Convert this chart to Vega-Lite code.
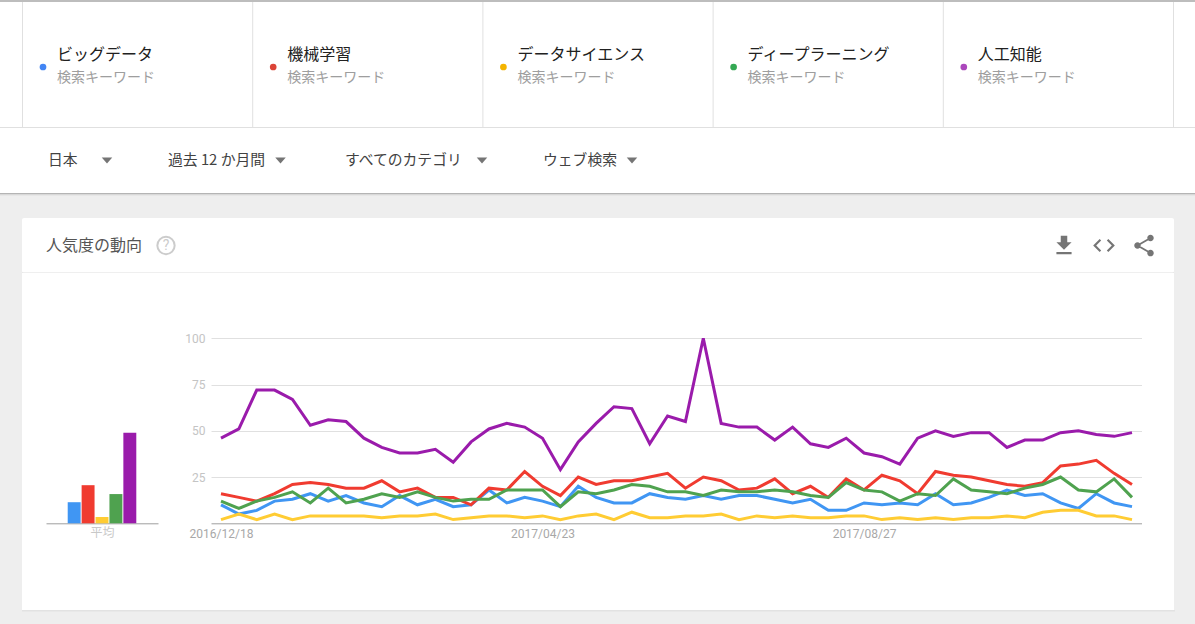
{"$schema":"https://vega.github.io/schema/vega-lite/v6.json","background":"#eeeeee","padding":0,"autosize":{"type":"pad"},
"config":{"font":"Noto Sans CJK JP","view":{"stroke":null},"axis":{"labelFont":"Roboto","titleFont":"Noto Sans CJK JP"}},
"datasets":{
"keywords":[{"slot":0,"series":"ビッグデータ","kind":"検索キーワード"},{"slot":1,"series":"機械学習","kind":"検索キーワード"},{"slot":2,"series":"データサイエンス","kind":"検索キーワード"},{"slot":3,"series":"ディープラーニング","kind":"検索キーワード"},{"slot":4,"series":"人工知能","kind":"検索キーワード"}],
"separators":[{"slot":0},{"slot":1},{"slot":2},{"slot":3},{"slot":4},{"slot":5}],
"filters":[{"slot":0,"label":"日本"},{"slot":1,"label":"過去 12 か月間"},{"slot":2,"label":"すべてのカテゴリ"},{"slot":3,"label":"ウェブ検索"}],
"cardhead":[{"slot":0,"item":"人気度の動向"},{"slot":1,"item":"?"},{"slot":2,"item":"download"},{"slot":3,"item":"code"},{"slot":4,"item":"share"}],
"averages":[{"series":"ビッグデータ","value":11.4},{"series":"機械学習","value":20.6},{"series":"データサイエンス","value":3.4},{"series":"ディープラーニング","value":15.8},{"series":"人工知能","value":49}],
"trend":[
{"date":"2016/12/18","series":"ビッグデータ","value":10},{"date":"2016/12/25","series":"ビッグデータ","value":5},{"date":"2017/01/01","series":"ビッグデータ","value":7},{"date":"2017/01/08","series":"ビッグデータ","value":12},{"date":"2017/01/15","series":"ビッグデータ","value":13},{"date":"2017/01/22","series":"ビッグデータ","value":16},{"date":"2017/01/29","series":"ビッグデータ","value":12},{"date":"2017/02/05","series":"ビッグデータ","value":15},{"date":"2017/02/12","series":"ビッグデータ","value":11},{"date":"2017/02/19","series":"ビッグデータ","value":9},{"date":"2017/02/26","series":"ビッグデータ","value":15},{"date":"2017/03/05","series":"ビッグデータ","value":10},{"date":"2017/03/12","series":"ビッグデータ","value":13},{"date":"2017/03/19","series":"ビッグデータ","value":9},{"date":"2017/03/26","series":"ビッグデータ","value":10},{"date":"2017/04/02","series":"ビッグデータ","value":18},{"date":"2017/04/09","series":"ビッグデータ","value":11},{"date":"2017/04/16","series":"ビッグデータ","value":14},{"date":"2017/04/23","series":"ビッグデータ","value":12},{"date":"2017/04/30","series":"ビッグデータ","value":9},{"date":"2017/05/07","series":"ビッグデータ","value":20},{"date":"2017/05/14","series":"ビッグデータ","value":14},{"date":"2017/05/21","series":"ビッグデータ","value":11},{"date":"2017/05/28","series":"ビッグデータ","value":11},{"date":"2017/06/04","series":"ビッグデータ","value":16},{"date":"2017/06/11","series":"ビッグデータ","value":14},{"date":"2017/06/18","series":"ビッグデータ","value":13},{"date":"2017/06/25","series":"ビッグデータ","value":15},{"date":"2017/07/02","series":"ビッグデータ","value":13},{"date":"2017/07/09","series":"ビッグデータ","value":15},{"date":"2017/07/16","series":"ビッグデータ","value":15},{"date":"2017/07/23","series":"ビッグデータ","value":13},{"date":"2017/07/30","series":"ビッグデータ","value":11},{"date":"2017/08/06","series":"ビッグデータ","value":13},{"date":"2017/08/13","series":"ビッグデータ","value":7},{"date":"2017/08/20","series":"ビッグデータ","value":7},{"date":"2017/08/27","series":"ビッグデータ","value":11},{"date":"2017/09/03","series":"ビッグデータ","value":10},{"date":"2017/09/10","series":"ビッグデータ","value":11},{"date":"2017/09/17","series":"ビッグデータ","value":10},{"date":"2017/09/24","series":"ビッグデータ","value":16},{"date":"2017/10/01","series":"ビッグデータ","value":10},{"date":"2017/10/08","series":"ビッグデータ","value":11},{"date":"2017/10/15","series":"ビッグデータ","value":14},{"date":"2017/10/22","series":"ビッグデータ","value":18},{"date":"2017/10/29","series":"ビッグデータ","value":15},{"date":"2017/11/05","series":"ビッグデータ","value":16},{"date":"2017/11/12","series":"ビッグデータ","value":11},{"date":"2017/11/19","series":"ビッグデータ","value":8},{"date":"2017/11/26","series":"ビッグデータ","value":16},{"date":"2017/12/03","series":"ビッグデータ","value":11},{"date":"2017/12/10","series":"ビッグデータ","value":9},
{"date":"2016/12/18","series":"機械学習","value":16},{"date":"2016/12/25","series":"機械学習","value":14},{"date":"2017/01/01","series":"機械学習","value":12},{"date":"2017/01/08","series":"機械学習","value":16},{"date":"2017/01/15","series":"機械学習","value":21},{"date":"2017/01/22","series":"機械学習","value":22},{"date":"2017/01/29","series":"機械学習","value":21},{"date":"2017/02/05","series":"機械学習","value":19},{"date":"2017/02/12","series":"機械学習","value":19},{"date":"2017/02/19","series":"機械学習","value":23},{"date":"2017/02/26","series":"機械学習","value":17},{"date":"2017/03/05","series":"機械学習","value":19},{"date":"2017/03/12","series":"機械学習","value":14},{"date":"2017/03/19","series":"機械学習","value":14},{"date":"2017/03/26","series":"機械学習","value":10},{"date":"2017/04/02","series":"機械学習","value":19},{"date":"2017/04/09","series":"機械学習","value":18},{"date":"2017/04/16","series":"機械学習","value":28},{"date":"2017/04/23","series":"機械学習","value":20},{"date":"2017/04/30","series":"機械学習","value":15},{"date":"2017/05/07","series":"機械学習","value":25},{"date":"2017/05/14","series":"機械学習","value":21},{"date":"2017/05/21","series":"機械学習","value":23},{"date":"2017/05/28","series":"機械学習","value":23},{"date":"2017/06/04","series":"機械学習","value":25},{"date":"2017/06/11","series":"機械学習","value":27},{"date":"2017/06/18","series":"機械学習","value":19},{"date":"2017/06/25","series":"機械学習","value":25},{"date":"2017/07/02","series":"機械学習","value":23},{"date":"2017/07/09","series":"機械学習","value":18},{"date":"2017/07/16","series":"機械学習","value":19},{"date":"2017/07/23","series":"機械学習","value":24},{"date":"2017/07/30","series":"機械学習","value":16},{"date":"2017/08/06","series":"機械学習","value":20},{"date":"2017/08/13","series":"機械学習","value":14},{"date":"2017/08/20","series":"機械学習","value":24},{"date":"2017/08/27","series":"機械学習","value":18},{"date":"2017/09/03","series":"機械学習","value":26},{"date":"2017/09/10","series":"機械学習","value":23},{"date":"2017/09/17","series":"機械学習","value":16},{"date":"2017/09/24","series":"機械学習","value":28},{"date":"2017/10/01","series":"機械学習","value":26},{"date":"2017/10/08","series":"機械学習","value":25},{"date":"2017/10/15","series":"機械学習","value":23},{"date":"2017/10/22","series":"機械学習","value":21},{"date":"2017/10/29","series":"機械学習","value":20},{"date":"2017/11/05","series":"機械学習","value":22},{"date":"2017/11/12","series":"機械学習","value":31},{"date":"2017/11/19","series":"機械学習","value":32},{"date":"2017/11/26","series":"機械学習","value":34},{"date":"2017/12/03","series":"機械学習","value":27},{"date":"2017/12/10","series":"機械学習","value":21},
{"date":"2016/12/18","series":"データサイエンス","value":2},{"date":"2016/12/25","series":"データサイエンス","value":5},{"date":"2017/01/01","series":"データサイエンス","value":2},{"date":"2017/01/08","series":"データサイエンス","value":5},{"date":"2017/01/15","series":"データサイエンス","value":2},{"date":"2017/01/22","series":"データサイエンス","value":4},{"date":"2017/01/29","series":"データサイエンス","value":4},{"date":"2017/02/05","series":"データサイエンス","value":4},{"date":"2017/02/12","series":"データサイエンス","value":4},{"date":"2017/02/19","series":"データサイエンス","value":3},{"date":"2017/02/26","series":"データサイエンス","value":4},{"date":"2017/03/05","series":"データサイエンス","value":4},{"date":"2017/03/12","series":"データサイエンス","value":5},{"date":"2017/03/19","series":"データサイエンス","value":2},{"date":"2017/03/26","series":"データサイエンス","value":3},{"date":"2017/04/02","series":"データサイエンス","value":4},{"date":"2017/04/09","series":"データサイエンス","value":4},{"date":"2017/04/16","series":"データサイエンス","value":3},{"date":"2017/04/23","series":"データサイエンス","value":4},{"date":"2017/04/30","series":"データサイエンス","value":2},{"date":"2017/05/07","series":"データサイエンス","value":4},{"date":"2017/05/14","series":"データサイエンス","value":5},{"date":"2017/05/21","series":"データサイエンス","value":2},{"date":"2017/05/28","series":"データサイエンス","value":6},{"date":"2017/06/04","series":"データサイエンス","value":3},{"date":"2017/06/11","series":"データサイエンス","value":3},{"date":"2017/06/18","series":"データサイエンス","value":4},{"date":"2017/06/25","series":"データサイエンス","value":4},{"date":"2017/07/02","series":"データサイエンス","value":5},{"date":"2017/07/09","series":"データサイエンス","value":2},{"date":"2017/07/16","series":"データサイエンス","value":4},{"date":"2017/07/23","series":"データサイエンス","value":3},{"date":"2017/07/30","series":"データサイエンス","value":4},{"date":"2017/08/06","series":"データサイエンス","value":3},{"date":"2017/08/13","series":"データサイエンス","value":3},{"date":"2017/08/20","series":"データサイエンス","value":4},{"date":"2017/08/27","series":"データサイエンス","value":4},{"date":"2017/09/03","series":"データサイエンス","value":2},{"date":"2017/09/10","series":"データサイエンス","value":3},{"date":"2017/09/17","series":"データサイエンス","value":2},{"date":"2017/09/24","series":"データサイエンス","value":3},{"date":"2017/10/01","series":"データサイエンス","value":2},{"date":"2017/10/08","series":"データサイエンス","value":3},{"date":"2017/10/15","series":"データサイエンス","value":3},{"date":"2017/10/22","series":"データサイエンス","value":4},{"date":"2017/10/29","series":"データサイエンス","value":3},{"date":"2017/11/05","series":"データサイエンス","value":6},{"date":"2017/11/12","series":"データサイエンス","value":7},{"date":"2017/11/19","series":"データサイエンス","value":7},{"date":"2017/11/26","series":"データサイエンス","value":4},{"date":"2017/12/03","series":"データサイエンス","value":4},{"date":"2017/12/10","series":"データサイエンス","value":2},
{"date":"2016/12/18","series":"ディープラーニング","value":12},{"date":"2016/12/25","series":"ディープラーニング","value":8},{"date":"2017/01/01","series":"ディープラーニング","value":12},{"date":"2017/01/08","series":"ディープラーニング","value":14},{"date":"2017/01/15","series":"ディープラーニング","value":17},{"date":"2017/01/22","series":"ディープラーニング","value":11},{"date":"2017/01/29","series":"ディープラーニング","value":19},{"date":"2017/02/05","series":"ディープラーニング","value":11},{"date":"2017/02/12","series":"ディープラーニング","value":13},{"date":"2017/02/19","series":"ディープラーニング","value":16},{"date":"2017/02/26","series":"ディープラーニング","value":14},{"date":"2017/03/05","series":"ディープラーニング","value":17},{"date":"2017/03/12","series":"ディープラーニング","value":14},{"date":"2017/03/19","series":"ディープラーニング","value":12},{"date":"2017/03/26","series":"ディープラーニング","value":13},{"date":"2017/04/02","series":"ディープラーニング","value":13},{"date":"2017/04/09","series":"ディープラーニング","value":18},{"date":"2017/04/16","series":"ディープラーニング","value":18},{"date":"2017/04/23","series":"ディープラーニング","value":18},{"date":"2017/04/30","series":"ディープラーニング","value":9},{"date":"2017/05/07","series":"ディープラーニング","value":17},{"date":"2017/05/14","series":"ディープラーニング","value":16},{"date":"2017/05/21","series":"ディープラーニング","value":18},{"date":"2017/05/28","series":"ディープラーニング","value":21},{"date":"2017/06/04","series":"ディープラーニング","value":20},{"date":"2017/06/11","series":"ディープラーニング","value":17},{"date":"2017/06/18","series":"ディープラーニング","value":17},{"date":"2017/06/25","series":"ディープラーニング","value":15},{"date":"2017/07/02","series":"ディープラーニング","value":18},{"date":"2017/07/09","series":"ディープラーニング","value":17},{"date":"2017/07/16","series":"ディープラーニング","value":17},{"date":"2017/07/23","series":"ディープラーニング","value":18},{"date":"2017/07/30","series":"ディープラーニング","value":17},{"date":"2017/08/06","series":"ディープラーニング","value":15},{"date":"2017/08/13","series":"ディープラーニング","value":14},{"date":"2017/08/20","series":"ディープラーニング","value":22},{"date":"2017/08/27","series":"ディープラーニング","value":18},{"date":"2017/09/03","series":"ディープラーニング","value":17},{"date":"2017/09/10","series":"ディープラーニング","value":12},{"date":"2017/09/17","series":"ディープラーニング","value":16},{"date":"2017/09/24","series":"ディープラーニング","value":15},{"date":"2017/10/01","series":"ディープラーニング","value":24},{"date":"2017/10/08","series":"ディープラーニング","value":18},{"date":"2017/10/15","series":"ディープラーニング","value":17},{"date":"2017/10/22","series":"ディープラーニング","value":16},{"date":"2017/10/29","series":"ディープラーニング","value":19},{"date":"2017/11/05","series":"ディープラーニング","value":21},{"date":"2017/11/12","series":"ディープラーニング","value":25},{"date":"2017/11/19","series":"ディープラーニング","value":18},{"date":"2017/11/26","series":"ディープラーニング","value":17},{"date":"2017/12/03","series":"ディープラーニング","value":24},{"date":"2017/12/10","series":"ディープラーニング","value":14},
{"date":"2016/12/18","series":"人工知能","value":46},{"date":"2016/12/25","series":"人工知能","value":51},{"date":"2017/01/01","series":"人工知能","value":72},{"date":"2017/01/08","series":"人工知能","value":72},{"date":"2017/01/15","series":"人工知能","value":67},{"date":"2017/01/22","series":"人工知能","value":53},{"date":"2017/01/29","series":"人工知能","value":56},{"date":"2017/02/05","series":"人工知能","value":55},{"date":"2017/02/12","series":"人工知能","value":46},{"date":"2017/02/19","series":"人工知能","value":41},{"date":"2017/02/26","series":"人工知能","value":38},{"date":"2017/03/05","series":"人工知能","value":38},{"date":"2017/03/12","series":"人工知能","value":40},{"date":"2017/03/19","series":"人工知能","value":33},{"date":"2017/03/26","series":"人工知能","value":44},{"date":"2017/04/02","series":"人工知能","value":51},{"date":"2017/04/09","series":"人工知能","value":54},{"date":"2017/04/16","series":"人工知能","value":52},{"date":"2017/04/23","series":"人工知能","value":46},{"date":"2017/04/30","series":"人工知能","value":29},{"date":"2017/05/07","series":"人工知能","value":44},{"date":"2017/05/14","series":"人工知能","value":54},{"date":"2017/05/21","series":"人工知能","value":63},{"date":"2017/05/28","series":"人工知能","value":62},{"date":"2017/06/04","series":"人工知能","value":43},{"date":"2017/06/11","series":"人工知能","value":58},{"date":"2017/06/18","series":"人工知能","value":55},{"date":"2017/06/25","series":"人工知能","value":100},{"date":"2017/07/02","series":"人工知能","value":54},{"date":"2017/07/09","series":"人工知能","value":52},{"date":"2017/07/16","series":"人工知能","value":52},{"date":"2017/07/23","series":"人工知能","value":45},{"date":"2017/07/30","series":"人工知能","value":52},{"date":"2017/08/06","series":"人工知能","value":43},{"date":"2017/08/13","series":"人工知能","value":41},{"date":"2017/08/20","series":"人工知能","value":46},{"date":"2017/08/27","series":"人工知能","value":38},{"date":"2017/09/03","series":"人工知能","value":36},{"date":"2017/09/10","series":"人工知能","value":32},{"date":"2017/09/17","series":"人工知能","value":46},{"date":"2017/09/24","series":"人工知能","value":50},{"date":"2017/10/01","series":"人工知能","value":47},{"date":"2017/10/08","series":"人工知能","value":49},{"date":"2017/10/15","series":"人工知能","value":49},{"date":"2017/10/22","series":"人工知能","value":41},{"date":"2017/10/29","series":"人工知能","value":45},{"date":"2017/11/05","series":"人工知能","value":45},{"date":"2017/11/12","series":"人工知能","value":49},{"date":"2017/11/19","series":"人工知能","value":50},{"date":"2017/11/26","series":"人工知能","value":48},{"date":"2017/12/03","series":"人工知能","value":47},{"date":"2017/12/10","series":"人工知能","value":49}
]},
"spacing":0,"bounds":"full","align":"each",
"vconcat":[
{"width":1195,"height":128,"view":{"fill":"white"},"layer":[
 {"data":{"name":"separators"},"mark":{"type":"rect","width":1,"color":"#e0e0e0"},"encoding":{"x":{"field":"slot","type":"quantitative","axis":null,"scale":{"domain":[0,5],"range":[22.5,1173.5]}}}},
 {"data":{"values":[{"edge":"top"}]},"mark":{"type":"rect","color":"#bdbdbd"},"encoding":{"y":{"datum":0,"type":"quantitative","axis":null,"scale":{"domain":[0,128],"range":[0,128]}},"y2":{"datum":2}}},
 {"data":{"values":[{"edge":"bottom"}]},"mark":{"type":"rect","color":"#e0e0e0"},"encoding":{"y":{"datum":127,"type":"quantitative","axis":null,"scale":{"domain":[0,128],"range":[0,128]}},"y2":{"datum":128}}},
 {"data":{"name":"keywords"},"mark":{"type":"point","filled":true,"size":45,"shape":"circle","opacity":1,"xOffset":20.5},"encoding":{"x":{"field":"slot","type":"quantitative","axis":null,"scale":{"domain":[0,5],"range":[22.5,1173.5]}},"y":{"datum":67,"type":"quantitative","axis":null,"scale":{"domain":[0,128],"range":[0,128]}},"fill":{"field":"series","type":"nominal","legend":null,"scale":{"domain":["ビッグデータ","機械学習","データサイエンス","ディープラーニング","人工知能"],"range":["#4285f4","#db4437","#f4b400","#34a853","#ab47bc"]}}}},
 {"data":{"name":"keywords"},"mark":{"type":"text","align":"left","baseline":"middle","dx":34.5,"fontSize":16,"color":"#212121"},"encoding":{"x":{"field":"slot","type":"quantitative","axis":null,"scale":{"domain":[0,5],"range":[22.5,1173.5]}},"y":{"datum":55,"type":"quantitative","axis":null,"scale":{"domain":[0,128],"range":[0,128]}},"text":{"field":"series"}}},
 {"data":{"name":"keywords"},"mark":{"type":"text","align":"left","baseline":"middle","dx":34.5,"fontSize":14,"color":"#9e9e9e"},"encoding":{"x":{"field":"slot","type":"quantitative","axis":null,"scale":{"domain":[0,5],"range":[22.5,1173.5]}},"y":{"datum":78,"type":"quantitative","axis":null,"scale":{"domain":[0,128],"range":[0,128]}},"text":{"field":"kind"}}}
]},
{"width":1195,"height":65,"view":{"fill":"white"},"resolve":{"scale":{"x":"independent"}},"layer":[
 {"data":{"name":"filters"},"mark":{"type":"text","align":"left","baseline":"middle","fontSize":14.8,"color":"#424242"},"encoding":{"x":{"field":"slot","type":"quantitative","axis":null,"scale":{"domain":[0,1,2,3],"range":[48,168,345,543]}},"text":{"field":"label"}}},
 {"data":{"name":"filters"},"mark":{"type":"point","filled":true,"shape":"M-1 -.55H1L0 .55Z","size":110,"color":"#757575","opacity":1},"encoding":{"x":{"field":"slot","type":"quantitative","axis":null,"scale":{"domain":[0,1,2,3],"range":[107,280.5,482,632]}}}}
]},
{"width":1195,"height":25,"view":{"fill":"#eeeeee"},"layer":[
 {"data":{"values":[{"shade":"dark"}]},"mark":{"type":"rect","color":"#b4b4b4"},"encoding":{"y":{"datum":0,"type":"quantitative","axis":null,"scale":{"domain":[0,25],"range":[0,25]}},"y2":{"datum":1}}},
 {"data":{"values":[{"shade":"mid"}]},"mark":{"type":"rect","color":"#d8d8d8"},"encoding":{"y":{"datum":1,"type":"quantitative","axis":null,"scale":{"domain":[0,25],"range":[0,25]}},"y2":{"datum":2}}},
 {"data":{"values":[{"shade":"light"}]},"mark":{"type":"rect","color":"#e6e6e6"},"encoding":{"y":{"datum":2,"type":"quantitative","axis":null,"scale":{"domain":[0,25],"range":[0,25]}},"y2":{"datum":3}}}
]},
{"spacing":0,"bounds":"flush","hconcat":[
 {"width":22,"height":55,"view":{"fill":"#eeeeee"},"data":{"values":[]},"mark":"rect"},
 {"width":1152,"height":55,"view":{"fill":"white","cornerRadius":2},"layer":[
  {"data":{"values":[{"edge":"bottom"}]},"mark":{"type":"rect","color":"#e0e0e0"},"encoding":{"y":{"datum":54.5,"type":"quantitative","axis":null,"scale":{"domain":[0,55],"range":[0,55]}},"y2":{"datum":55}}},
  {"data":{"name":"cardhead"},"transform":[{"filter":"datum.slot==0"}],"mark":{"type":"text","align":"left","baseline":"middle","fontSize":16,"color":"#555555"},"encoding":{"x":{"field":"slot","type":"quantitative","axis":null,"scale":{"domain":[0,1,2,3,4],"range":[24,144,1042,1082,1122]}},"text":{"field":"item"}}},
  {"data":{"name":"cardhead"},"transform":[{"filter":"datum.slot==1"}],"mark":{"type":"point","shape":"circle","filled":false,"size":300,"strokeWidth":2,"color":"#cccccc","opacity":1},"encoding":{"x":{"field":"slot","type":"quantitative","axis":null,"scale":{"domain":[0,1,2,3,4],"range":[24,144,1042,1082,1122]}}}},
  {"data":{"name":"cardhead"},"transform":[{"filter":"datum.slot==1"}],"mark":{"type":"text","align":"center","baseline":"middle","fontSize":14,"font":"Roboto","color":"#cccccc"},"encoding":{"x":{"field":"slot","type":"quantitative","axis":null,"scale":{"domain":[0,1,2,3,4],"range":[24,144,1042,1082,1122]}},"text":{"field":"item"}}},
  {"data":{"name":"cardhead"},"transform":[{"filter":"datum.slot>=2"}],"mark":{"type":"point","filled":true,"size":676,"color":"#757575","opacity":1},"encoding":{"x":{"field":"slot","type":"quantitative","axis":null,"scale":{"domain":[0,1,2,3,4],"range":[24,144,1042,1082,1122]}},"shape":{"field":"item","type":"nominal","legend":null,"scale":{"domain":["download","code","share"],"range":["M.583 -.25H.25V-.75H-.25V-.25H-.583L0 .333ZM-.583 .5H.583V.667H-.583Z","M-.217 .383L-.6 0L-.217 -.383L-.333 -.5L-.833 0L-.333 .5ZM.217 .383L.6 0L.217 -.383L.333 -.5L.833 0L.333 .5Z","M.5 -.833A.25 .25 0 1 1 .5 -.333A.25 .25 0 1 1 .5 -.833ZM-.5 -.25A.25 .25 0 1 1 -.5 .25A.25 .25 0 1 1 -.5 -.25ZM.5 .333A.25 .25 0 1 1 .5 .833A.25 .25 0 1 1 .5 .333ZM-.535 -.06L.465 -.643L.535 -.523L-.465 .06ZM-.465 -.06L.535 .523L.465 .643L-.535 .06Z"]}}}}
 ]}
]},
{"spacing":0,"bounds":"flush","hconcat":[
 {"width":22,"height":337,"view":{"fill":"#eeeeee"},"data":{"values":[]},"mark":"rect"},
 {"width":189,"height":337,"view":{"fill":"white"},"data":{"name":"averages"},"mark":{"type":"bar"},"encoding":{
  "x":{"field":"series","type":"nominal","scale":{"domain":[" ","ビッグデータ","機械学習","データサイエンス","ディープラーニング","人工知能","  "],"range":[24,136],"paddingInner":0.07,"paddingOuter":0.56},"axis":{"labels":false,"ticks":false,"title":"平均","titleColor":"#c8c8c8","titleFontSize":12,"titleFontWeight":"normal","titlePadding":4,"domainColor":"#9e9e9e","domainWidth":1,"offset":-86.7}},
  "y":{"field":"value","type":"quantitative","axis":null,"scale":{"domain":[0,100],"nice":false,"range":[250.3,65.3]}},
  "color":{"field":"series","type":"nominal","legend":null,"scale":{"domain":["ビッグデータ","機械学習","データサイエンス","ディープラーニング","人工知能"],"range":["#4096f3","#f03b30","#ffcc33","#4fa24f","#9a1bab"]}}}},
 {"width":931,"height":337,"view":{"fill":"white"},"data":{"name":"trend"},"mark":{"type":"line","strokeWidth":3},"encoding":{
  "x":{"field":"date","type":"ordinal","scale":{"type":"point","padding":0.56},"axis":{"values":["2016/12/18","2017/04/23","2017/08/27"],"labelAngle":0,"labelFontSize":12,"labelColor":"#a8a8a8","labelPadding":5,"labelOverlap":false,"labelBound":false,"ticks":false,"title":null,"domainColor":"#9e9e9e","domainWidth":1,"offset":-86.7}},
  "y":{"field":"value","type":"quantitative","scale":{"domain":[0,100],"nice":false,"range":[250.3,65.3]},"axis":{"values":[25,50,75,100],"labelFontSize":12,"labelColor":"#c4c4c4","labelPadding":6,"ticks":false,"domain":false,"title":null,"grid":true,"gridColor":"#e0e0e0","gridWidth":1}},
  "color":{"field":"series","type":"nominal","legend":null,"scale":{"domain":["ビッグデータ","機械学習","データサイエンス","ディープラーニング","人工知能"],"range":["#4096f3","#f03b30","#ffcc33","#4fa24f","#9a1bab"]}}}},
 {"width":32,"height":337,"view":{"fill":"white"},"data":{"values":[]},"mark":"rect"}
]},
{"width":1195,"height":14,"view":{"fill":"#eeeeee"},"layer":[
 {"data":{"values":[{"shade":"rim"}]},"mark":{"type":"rect","color":"#e2e2e2"},"encoding":{"x":{"datum":22,"type":"quantitative","axis":null,"scale":{"domain":[0,1195],"range":[0,1195]}},"x2":{"datum":1175},"y":{"datum":0,"type":"quantitative","axis":null,"scale":{"domain":[0,14],"range":[0,14]}},"y2":{"datum":1.5}}}
]}
]}
